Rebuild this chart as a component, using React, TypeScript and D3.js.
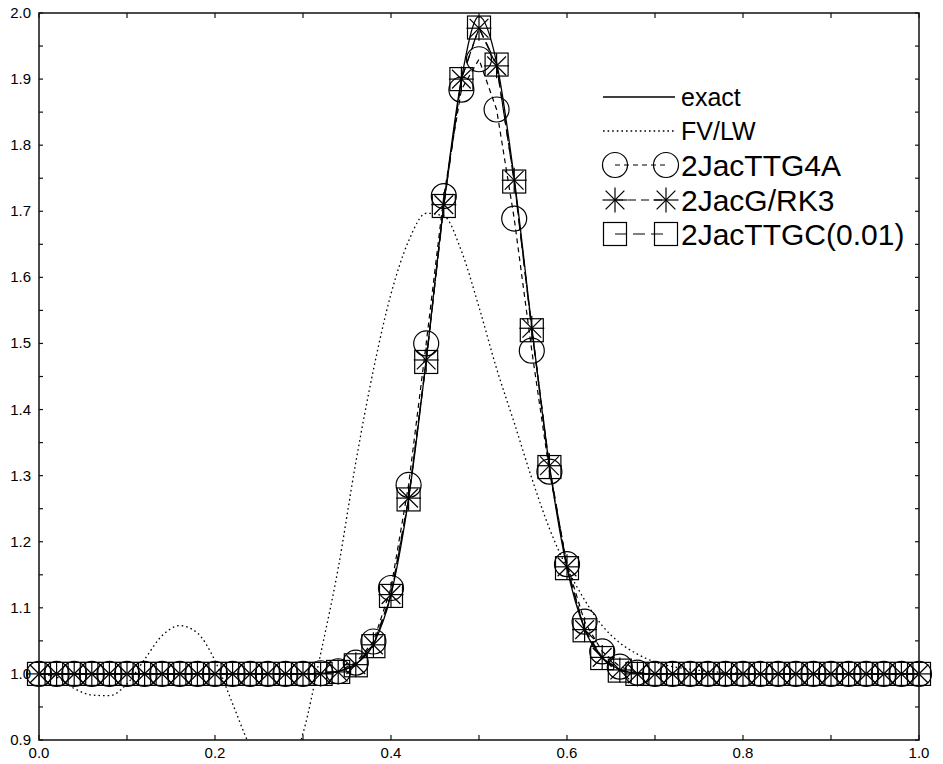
import React from "react";
import * as d3 from "d3";

const W = 943;
const H = 764;

// x grid of the computed solutions (step 0.02)
const xGrid: number[] = d3.range(0, 51).map((i) => +(i * 0.02).toFixed(2));

const exactVals: number[] = [
  1, 1, 1, 1, 1, 1, 1, 1, 1, 1, 1, 1, 1, 1, 1, 1,
  1.001, 1.004, 1.015, 1.045, 1.12, 1.265, 1.475, 1.71, 1.9, 1.995,
  1.925, 1.75, 1.525, 1.315, 1.16, 1.068, 1.024, 1.007, 1.001,
  1, 1, 1, 1, 1, 1, 1, 1, 1, 1, 1, 1, 1, 1, 1, 1,
];

const fvlwVals: number[] = [
  1.0, 0.995, 0.978, 0.968, 0.967, 0.985, 1.022, 1.058, 1.073, 1.062,
  1.02, 0.955, 0.89, 0.85, 0.845, 0.91, 1.03, 1.16, 1.32, 1.46,
  1.575, 1.655, 1.697, 1.693, 1.64, 1.555, 1.462, 1.38, 1.296, 1.22,
  1.16, 1.112, 1.073, 1.047, 1.03, 1.018, 1.011, 1.007, 1.004, 1.002,
  1.001, 1, 1, 1, 1, 1, 1, 1, 1, 1, 1,
];

const ttg4aVals: number[] = [
  1, 1, 1, 1, 1, 1, 1, 1, 1, 1, 1, 1, 1, 1, 1, 1,
  1.001, 1.004, 1.017, 1.049, 1.13, 1.286, 1.5, 1.723, 1.884, 1.93,
  1.854, 1.689, 1.489, 1.306, 1.166, 1.079, 1.034, 1.011, 1.002,
  1, 1, 1, 1, 1, 1, 1, 1, 1, 1, 1, 1, 1, 1, 1, 1,
];

const grk3Vals: number[] = [
  1, 1, 1, 1, 1, 1, 1, 1, 1, 1, 1, 1, 1, 1, 1, 1,
  1.0, 1.003, 1.014, 1.044, 1.12, 1.266, 1.475, 1.71, 1.9, 1.977,
  1.92, 1.747, 1.523, 1.315, 1.162, 1.067, 1.025, 1.006, 1.0,
  1, 1, 1, 1, 1, 1, 1, 1, 1, 1, 1, 1, 1, 1, 1, 1,
];

const ttgcVals: number[] = [
  1, 1, 1, 1, 1, 1, 1, 1, 1, 1, 1, 1, 1, 1, 1, 1,
  1.0, 1.003, 1.013, 1.042, 1.118, 1.264, 1.472, 1.708, 1.9, 1.978,
  1.922, 1.745, 1.52, 1.313, 1.16, 1.066, 1.024, 1.005, 1.0,
  1, 1, 1, 1, 1, 1, 1, 1, 1, 1, 1, 1, 1, 1, 1, 1,
];

const xTickLabels: number[] = [0, 0.2, 0.4, 0.6, 0.8, 1.0];
const xMinorTicks: number[] = d3.range(0, 11).map((i) => +(i * 0.1).toFixed(1));
const yTickLabels: number[] = d3.range(0, 12).map((i) => +(0.9 + i * 0.1).toFixed(1));
const yMinorTicks: number[] = d3.range(0, 23).map((i) => +(0.9 + i * 0.05).toFixed(2));

const legendLabels: string[] = ["exact", "FV/LW", "2JacTTG4A", "2JacG/RK3", "2JacTTGC(0.01)"];

const FONT = "'Liberation Sans', Arial, Helvetica, sans-serif";

const L = 39, R = 919, T = 13, B = 740;

const x = d3.scaleLinear().domain([0, 1]).range([L, R]);
const y = d3.scaleLinear().domain([0.9, 2.0]).range([B, T]);

const pts = (vals: number[]): [number, number][] => vals.map((v, i) => [xGrid[i], v]);

const smooth = d3.line<[number, number]>().x((d) => x(d[0])).y((d) => y(d[1])).curve(d3.curveMonotoneX);
const straight = d3.line<[number, number]>().x((d) => x(d[0])).y((d) => y(d[1]));

const CR = 12.5; // circle radius
const SQ = 11.5; // square half side
const ST = 12.5; // star arm

function Circle({ cx, cy }: { cx: number; cy: number }) {
  return <circle cx={cx} cy={cy} r={CR} fill="none" stroke="#000" strokeWidth={1.2} />;
}
function Square({ cx, cy }: { cx: number; cy: number }) {
  return <rect x={cx - SQ} y={cy - SQ} width={2 * SQ} height={2 * SQ} fill="none" stroke="#000" strokeWidth={1.2} />;
}
function Star({ cx, cy }: { cx: number; cy: number }) {
  const d = ST * 0.75;
  return (
    <g stroke="#000" strokeWidth={1.2}>
      <line x1={cx - ST} y1={cy} x2={cx + ST} y2={cy} />
      <line x1={cx} y1={cy - ST} x2={cx} y2={cy + ST} />
      <line x1={cx - d} y1={cy - d} x2={cx + d} y2={cy + d} />
      <line x1={cx - d} y1={cy + d} x2={cx + d} y2={cy - d} />
    </g>
  );
}

export default function App() {
  const lx0 = 603, lx1 = 675, mL = 615, mR = 666, tx = 681;
  const rowY = [97, 131, 165, 200, 234];
  const rowSize = [25, 25, 30, 30, 30];
  return (
    <svg width={W} height={H} style={{ position: "absolute", left: 0, top: 0, background: "#fff" }} fontFamily={FONT}>
      <defs>
        <clipPath id="plotclip">
          <rect x={L} y={T} width={R - L} height={B - T} />
        </clipPath>
      </defs>
      <rect x={0} y={0} width={W} height={H} fill="#fff" />

      {/* curves */}
      <g clipPath="url(#plotclip)" fill="none" stroke="#000">
        <path d={smooth(pts(fvlwVals)) || ""} strokeWidth={1.3} strokeDasharray="1.6,3" />
        <path d={smooth(pts(exactVals)) || ""} strokeWidth={1.3} />
        <path d={straight(pts(ttg4aVals)) || ""} strokeWidth={1.2} strokeDasharray="5,4" />
        <path d={straight(pts(grk3Vals)) || ""} strokeWidth={1.2} strokeDasharray="8,5" />
        <path d={straight(pts(ttgcVals)) || ""} strokeWidth={1.2} strokeDasharray="12,6" />
      </g>

      {/* markers */}
      <g>
        {ttg4aVals.map((v, i) => <Circle key={"c" + i} cx={x(xGrid[i])} cy={y(v)} />)}
        {grk3Vals.map((v, i) => <Star key={"s" + i} cx={x(xGrid[i])} cy={y(v)} />)}
        {ttgcVals.map((v, i) => <Square key={"q" + i} cx={x(xGrid[i])} cy={y(v)} />)}
      </g>

      {/* frame */}
      <rect x={L} y={T} width={R - L} height={B - T} fill="none" stroke="#111" strokeWidth={1.5} />

      {/* ticks */}
      <g stroke="#111" strokeWidth={1.2}>
        {xMinorTicks.map((t) => (
          <g key={"xt" + t}>
            <line x1={x(t)} x2={x(t)} y1={B} y2={B - 5} />
            <line x1={x(t)} x2={x(t)} y1={T} y2={T + 5} />
          </g>
        ))}
        {yMinorTicks.map((t) => (
          <g key={"yt" + t}>
            <line x1={L} x2={L + 4} y1={y(t)} y2={y(t)} />
            <line x1={R} x2={R - 4} y1={y(t)} y2={y(t)} />
          </g>
        ))}
      </g>

      {/* tick labels */}
      <g fontSize={15} fill="#000">
        {xTickLabels.map((t) => (
          <text key={"xl" + t} x={x(t)} y={B + 18} textAnchor="middle">
            {t.toFixed(1)}
          </text>
        ))}
        {yTickLabels.map((t) => (
          <text key={"yl" + t} x={L - 8} y={y(t) + 5} textAnchor="end">
            {t.toFixed(1)}
          </text>
        ))}
      </g>

      {/* legend */}
      <g fill="#000">
        <line x1={lx0} x2={lx1} y1={rowY[0]} y2={rowY[0]} stroke="#000" strokeWidth={1.3} />
        <line x1={lx0} x2={lx1} y1={rowY[1]} y2={rowY[1]} stroke="#000" strokeWidth={1.3} strokeDasharray="1.6,3" />
        <line x1={mL} x2={mR} y1={rowY[2]} y2={rowY[2]} stroke="#000" strokeWidth={1.2} strokeDasharray="5,4" />
        <Circle cx={mL} cy={rowY[2]} />
        <Circle cx={mR} cy={rowY[2]} />
        <line x1={mL} x2={mR} y1={rowY[3]} y2={rowY[3]} stroke="#000" strokeWidth={1.2} strokeDasharray="8,5" />
        <Star cx={mL} cy={rowY[3]} />
        <Star cx={mR} cy={rowY[3]} />
        <line x1={mL} x2={mR} y1={rowY[4]} y2={rowY[4]} stroke="#000" strokeWidth={1.2} strokeDasharray="12,6" />
        <Square cx={mL} cy={rowY[4]} />
        <Square cx={mR} cy={rowY[4]} />
        {legendLabels.map((s, i) => (
          <text key={s} x={tx} y={rowY[i] + rowSize[i] * 0.36} fontSize={rowSize[i]}>
            {s}
          </text>
        ))}
      </g>
    </svg>
  );
}
